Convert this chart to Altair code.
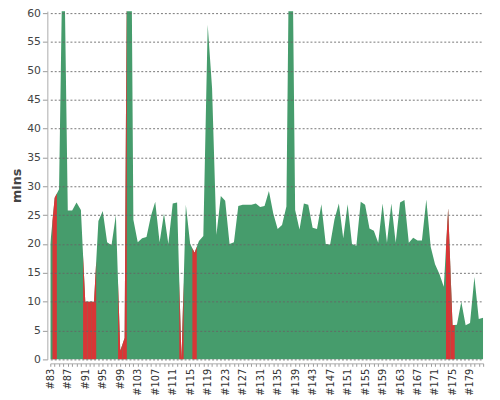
import altair as alt
import pandas as pd

# Build numbers #83 .. #182
first_build = 83
durations = [
    20, 28, 29.5, 80, 25.8, 25.8, 27.2, 25.9, 10, 10,
    10, 24, 25.7, 20.3, 19.8, 25, 1.5, 3.7, 130, 24.2,
    20.3, 21, 21.2, 24.8, 27.3, 20.3, 25.3, 20, 27, 27.2,
    0, 26.8, 20, 18.5, 20.5, 21.4, 58, 47, 21.6, 28.3,
    27.5, 20, 20.3, 26.6, 26.8, 26.8, 26.8, 27, 26.4, 26.6,
    29.2, 25.3, 22.6, 23.3, 26.5, 100, 25.9, 22.5, 27, 26.8,
    22.8, 22.6, 26.9, 20, 19.9, 24.3, 27, 21, 26.9, 20,
    19.7, 27.3, 26.8, 22.7, 22.3, 20.2, 27, 20.2, 27, 20.2,
    27.2, 27.6, 20.2, 21.1, 20.6, 20.6, 27.7, 19.5, 16.5, 14.8,
    12.6, 26.2, 5.9, 6, 10, 5.9, 6.3, 14.3, 7, 7.2,
]
builds = list(range(first_build, first_build + len(durations)))
failed_builds = [84, 91, 92, 93, 99, 100, 113, 116, 174, 175]
y_ticks = list(range(0, 61, 5))

GREEN = "#469c6c"
RED = "#d83636"

df = pd.DataFrame({"build": builds, "mins": durations})

# each failed build colours its own band: half a step each side, following the line
vals = dict(zip(builds, durations))
rows = []
for b in failed_builds:
    v = vals[b]
    left = (vals.get(b - 1, v) + v) / 2
    right = (vals.get(b + 1, v) + v) / 2
    rows += [
        {"build": b, "x": b - 0.5, "mins": left},
        {"build": b, "x": b, "mins": v},
        {"build": b, "x": b + 0.5, "mins": right},
    ]
red_df = pd.DataFrame(rows)

xscale = alt.Scale(domain=[first_build, builds[-1]], nice=False, zero=False)
yscale = alt.Scale(domain=[0, 60.34], nice=False)

xaxis = alt.Axis(
    values=builds,
    labelExpr="datum.value % 4 == 3 ? '#' + datum.value : ''",
    labelAngle=270,
    labelOverlap=False,
    grid=False,
    tickSize=3,
    offset=4,
    domainColor="#aaaaaa",
    tickColor="#999999",
    labelPadding=2,
    labelFontSize=10,
    labelColor="#333333",
    title=None,
)
yaxis = alt.Axis(
    values=y_ticks,
    labelOverlap=False,
    grid=True,
    gridDash=[2, 2],
    gridColor="#666666",
    gridOpacity=0.9,
    domainColor="#aaaaaa",
    tickColor="#999999",
    tickSize=5,
    offset=3,
    labelPadding=2,
    labelFontSize=11,
    labelColor="#444444",
    title="mins",
    titleFontSize=13,
    titleFontWeight="bold",
    titleColor="#444444",
    titlePadding=3,
    zindex=1,
)

base = alt.Chart(df).mark_area(color=GREEN, interpolate="linear", clip=True).encode(
    x=alt.X("build:Q", scale=xscale, axis=xaxis),
    y=alt.Y("mins:Q", scale=yscale, axis=yaxis),
)

red = alt.Chart(red_df).mark_area(color=RED, interpolate="linear", clip=True).encode(
    x=alt.X("x:Q", scale=xscale, axis=xaxis),
    y=alt.Y("mins:Q", scale=yscale, axis=yaxis, stack=None),
    detail="build:N",
)

chart = (
    alt.layer(base, red)
    .properties(
        width=440,
        height=354,
        autosize=alt.AutoSizeParams(type="none"),
        padding={"left": 43, "top": 0, "right": 9, "bottom": 35},
        background="white",
    )
    .configure(font="DejaVu Sans")
    .configure_view(stroke=None)
)

chart.save("out.html", embed_options={"renderer": "svg", "actions": False})
